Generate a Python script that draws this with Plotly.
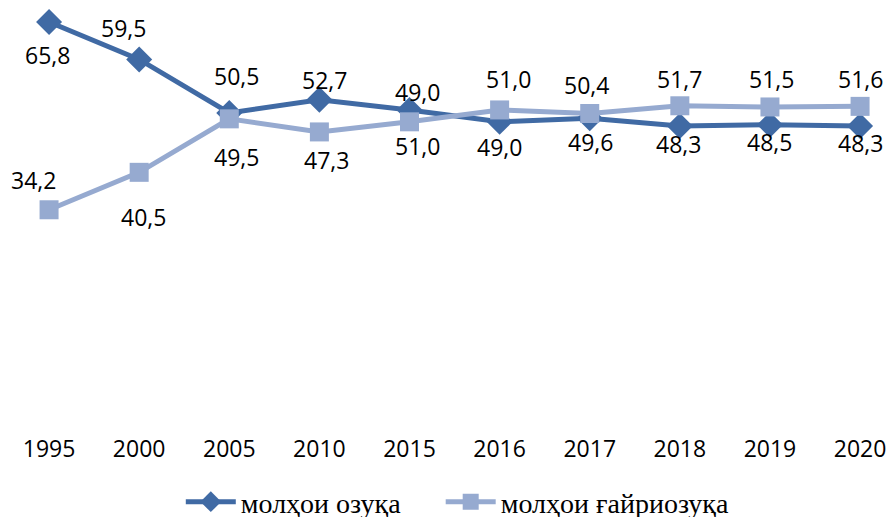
"""
Line chart: share of food vs non-food goods, 1995-2020.
"""

import plotly.graph_objects as go

years = ["1995", "2000", "2005", "2010", "2015", "2016", "2017", "2018", "2019", "2020"]

# plotted values (as drawn)
food = [65.8, 59.5, 50.5, 52.7, 51.0, 49.0, 49.6, 48.3, 48.5, 48.3]
nonfood = [34.2, 40.5, 49.5, 47.3, 49.0, 51.0, 50.4, 51.7, 51.5, 51.6]

# data label texts as printed on the chart
food_labels = ["65,8", "59,5", "50,5", "52,7", "49,0", "49,0", "49,6", "48,3", "48,5", "48,3"]
nonfood_labels = ["34,2", "40,5", "49,5", "47,3", "51,0", "51,0", "50,4", "51,7", "51,5", "51,6"]

food_name = "молҳои озуқа"
nonfood_name = "молҳои ғайриозуқа"

_DARK = "rgb(64,106,164)"
_LIGHT = "rgb(150,170,208)"
_LABEL_FONT = dict(family="Open Sans", size=23, color="black")
_LEGEND_FONT = dict(family="Liberation Serif", size=28, color="black")

# label nudges in px (dx, dy; dy positive = down on screen)
_FOOD_SHIFT = [(-2, 33), (-16, -31), (7, -37), (5, -20), (8, -18),
               (0, 25), (1, 24), (-1, 18), (0, 17), (0, 17)]
_NONFOOD_SHIFT = [(-16, -30), (4, 45), (7, 38), (7, 28), (8, 24),
                  (9, -31), (-3, -29), (0, -27), (2, -28), (0, -27)]

fig = go.Figure()

fig.add_trace(go.Scatter(
    x=years, y=food, name=food_name,
    mode="lines+markers",
    line=dict(color=_DARK, width=5),
    marker=dict(symbol="diamond", size=20, color=_DARK),
    legend="legend",
))
fig.add_trace(go.Scatter(
    x=years, y=nonfood, name=nonfood_name,
    mode="lines+markers",
    line=dict(color=_LIGHT, width=5),
    marker=dict(symbol="square", size=19, color=_LIGHT),
    legend="legend2",
))

# category axis: annotations placed by category index
for vals, texts, shifts in ((food, food_labels, _FOOD_SHIFT),
                            (nonfood, nonfood_labels, _NONFOOD_SHIFT)):
    for i, (v, t, (dx, dy)) in enumerate(zip(vals, texts, shifts)):
        fig.add_annotation(
            x=i, y=v, text=t, showarrow=False,
            xshift=dx, yshift=-dy,
            font=_LABEL_FONT,
        )

_legend_common = dict(
    orientation="h",
    xanchor="left",
    yref="container",
    y=0.029,
    yanchor="middle",
    font=_LEGEND_FONT,
    itemwidth=50,
)

fig.update_layout(
    width=888,
    height=517,
    paper_bgcolor="white",
    plot_bgcolor="white",
    margin=dict(l=4, r=0, t=0, b=104),
    xaxis=dict(
        type="category",
        range=[-0.5, 9.31],
        showgrid=False,
        showline=False,
        zeroline=False,
        ticks="",
        ticklabelstandoff=20,
        tickfont=_LABEL_FONT,
        automargin=False,
    ),
    yaxis=dict(
        range=[0, 69.5],
        showgrid=False,
        showline=False,
        zeroline=False,
        showticklabels=False,
        ticks="",
        automargin=False,
    ),
    legend=dict(x=0.2, **_legend_common),
    legend2=dict(x=0.494, **_legend_common),
    showlegend=True,
)

fig.write_html(
    "out.html",
    config={"displayModeBar": False},
    post_script="document.body.style.margin='0';",
)
